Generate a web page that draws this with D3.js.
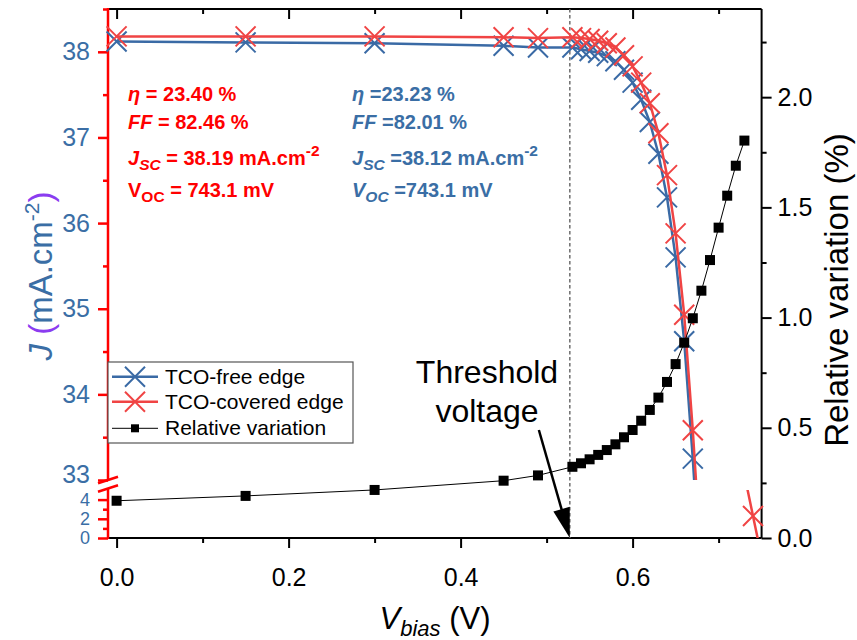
<!DOCTYPE html>
<html><head><meta charset="utf-8">
<script src="https://cdn.jsdelivr.net/npm/d3@7"></script>
<style>body{margin:0;background:#fff}svg{display:block}text{font-family:"Liberation Sans",Arial,sans-serif}</style>
</head><body><svg id="c" width="857" height="640"></svg>
<script>
// ---------- data ----------
const voltage = [0,0.15,0.30,0.45,0.49,0.53,0.54,0.55,0.56,0.57,0.58,0.59,0.60,0.61,0.62,0.63,0.64,0.65,0.66,0.67,0.68,0.69,0.70,0.71,0.72,0.73,0.74,0.75];
const jCovered = [38.18,38.18,38.18,38.17,38.16,38.17,38.16,38.15,38.13,38.10,38.05,37.96,37.83,37.64,37.40,37.05,36.56,35.88,34.93,33.58,32.00,29.5,25.8,20.5,13.8,6.6,2.3,-2.0];
const jFree = [38.12,38.11,38.10,38.07,38.05,38.05,38.03,38.01,37.99,37.95,37.89,37.79,37.64,37.44,37.18,36.81,36.30,35.60,34.62,33.25,31.64,29.1,25.4,20.2,13.6,6.5];
const relVariation = [0.169,0.191,0.218,0.260,0.284,0.323,0.339,0.357,0.377,0.399,0.425,0.457,0.490,0.532,0.581,0.637,0.708,0.789,0.886,0.997,1.122,1.261,1.408,1.553,1.689,1.803];
const thresholdV = 0.527;
const xTicks = [0,0.2,0.4,0.6];
const xMinor = [0.1,0.3,0.5,0.7];
const jUpperTicks = [33,34,35,36,37,38];
const jUpperMinor = [33.5,34.5,35.5,36.5,37.5,38.5];
const jLowerTicks = [0,2,4];
const jLowerMinor = [1,3];
const rTicks = [0,0.5,1.0,1.5,2.0];
const rMinor = [0.25,0.75,1.25,1.75,2.25];
const seriesNames = ["TCO-free edge","TCO-covered edge","Relative variation"];

// ---------- setup ----------
const W=857,H=640;
const BLUE="#3a6aa5", RED="#f04444", AXRED="#ff0000", TXTRED="#ff0000", TXTBLUE="#3a6ea5", PURPLE="#8b3cf0";
const svg=d3.select('#c');
const x=d3.scaleLinear().domain([-0.01,0.75]).range([108,761.6]);
const yUp=d3.scaleLinear().domain([33,38.5]).range([480,9]);
const yLow=d3.scaleLinear().domain([0,5]).range([538,490]);
const yR=d3.scaleLinear().domain([0,2.4]).range([538,9]);
const L=x.range()[0], R=x.range()[1], T=yUp.range()[1], B=yLow.range()[0];

const defs=svg.append('defs');
defs.append('clipPath').attr('id','clipUp').append('rect').attr('x',0).attr('y',0).attr('width',W).attr('height',yUp(33));
defs.append('clipPath').attr('id','clipLow').append('rect').attr('x',0).attr('y',yLow(5)).attr('width',W).attr('height',yLow(0)-yLow(5));

// ---------- axes ----------
function styleAxis(g,color,sw){g.select('.domain').remove();g.selectAll('.tick line').attr('stroke',color).attr('stroke-width',sw);g.selectAll('.tick text').attr('fill',color);}
let g=svg.append('g').attr('transform',`translate(0,${B})`).call(d3.axisBottom(x).tickValues(xTicks).tickSize(10).tickPadding(20).tickFormat(d3.format('.1f')));
styleAxis(g,'#000',2); g.selectAll('.tick text').attr('font-size',25).attr('fill','#000');
g=svg.append('g').attr('transform',`translate(0,${B})`).call(d3.axisBottom(x).tickValues(xMinor).tickSize(5).tickFormat(''));
styleAxis(g,'#000',2);
g=svg.append('g').attr('transform',`translate(0,${T})`).call(d3.axisTop(x).tickValues(xTicks).tickSize(-10).tickFormat(''));
styleAxis(g,'#000',2);
g=svg.append('g').attr('transform',`translate(0,${T})`).call(d3.axisTop(x).tickValues(xMinor).tickSize(-5).tickFormat(''));
styleAxis(g,'#000',2);
g=svg.append('g').attr('transform',`translate(${R},0)`).call(d3.axisRight(yR).tickValues(rTicks).tickSize(10).tickPadding(6).tickFormat(d3.format('.1f')));
styleAxis(g,'#000',2); g.selectAll('.tick text').attr('font-size',25).attr('fill','#000');
g=svg.append('g').attr('transform',`translate(${R},0)`).call(d3.axisRight(yR).tickValues(rMinor).tickSize(5).tickFormat(''));
styleAxis(g,'#000',2);
g=svg.append('g').attr('transform',`translate(${L},0)`).call(d3.axisLeft(yUp).tickValues(jUpperTicks).tickSize(10).tickPadding(8).tickFormat(d3.format('d')));
styleAxis(g,AXRED,2.5); g.selectAll('.tick text').attr('font-size',25).attr('fill',TXTBLUE);
g.selectAll('.tick text').filter(d=>d===33).attr('dy','0.1em');
g=svg.append('g').attr('transform',`translate(${L},0)`).call(d3.axisLeft(yUp).tickValues(jUpperMinor).tickSize(5).tickFormat(''));
styleAxis(g,AXRED,2.5);
g=svg.append('g').attr('transform',`translate(${L},0)`).call(d3.axisLeft(yLow).tickValues(jLowerTicks).tickSize(10).tickPadding(8).tickFormat(d3.format('d')));
styleAxis(g,AXRED,2.5); g.selectAll('.tick text').attr('font-size',18).attr('fill',TXTBLUE).attr('dy','0.3em');
g=svg.append('g').attr('transform',`translate(${L},0)`).call(d3.axisLeft(yLow).tickValues(jLowerMinor).tickSize(5).tickFormat(''));
styleAxis(g,AXRED,2.5);

// frame lines
svg.append('line').attr('x1',L).attr('x2',R).attr('y1',T).attr('y2',T).attr('stroke','#000').attr('stroke-width',2);
svg.append('line').attr('x1',L).attr('x2',R).attr('y1',B).attr('y2',B).attr('stroke','#000').attr('stroke-width',2);
svg.append('line').attr('x1',R).attr('x2',R).attr('y1',T).attr('y2',B).attr('stroke','#000').attr('stroke-width',2);
const brk1=yUp(33), brk2=yUp(33)+8.5;
svg.append('line').attr('x1',L).attr('x2',L).attr('y1',T-1).attr('y2',brk1).attr('stroke',AXRED).attr('stroke-width',2.5);
svg.append('line').attr('x1',L).attr('x2',L).attr('y1',brk2).attr('y2',B+1).attr('stroke',AXRED).attr('stroke-width',2.5);
[brk1,brk2].forEach(yb=>svg.append('line').attr('x1',L-10).attr('x2',L+10).attr('y1',yb+3.3).attr('y2',yb-3.3).attr('stroke',AXRED).attr('stroke-width',2.5));

svg.append('line').attr('x1',x(thresholdV)).attr('x2',x(thresholdV)).attr('y1',T).attr('y2',B)
  .attr('stroke','#6e6e6e').attr('stroke-width',1.5).attr('stroke-dasharray','3.5,2.5');

// ---------- J series ----------
function drawSeries(vals,color){
  const pts=vals.map((j,i)=>[voltage[i],j]);
  [[yUp,'clipUp'],[yLow,'clipLow']].forEach(([ys,clip])=>{
    const gg=svg.append('g').attr('clip-path',`url(#${clip})`);
    gg.append('path').datum(pts).attr('fill','none').attr('stroke',color).attr('stroke-width',2.5)
      .attr('d',d3.line().x(d=>x(d[0])).y(d=>ys(d[1])));
    gg.selectAll('path.m').data(pts).enter().append('path').attr('class','m')
      .attr('d',d=>{const cx=x(d[0]),cy=ys(d[1]),s=10;return `M${cx-s},${cy-s}L${cx+s},${cy+s}M${cx-s},${cy+s}L${cx+s},${cy-s}`;})
      .attr('stroke',color).attr('stroke-width',2).attr('fill','none');
  });
}
drawSeries(jFree,BLUE);
drawSeries(jCovered,RED);

// ---------- relative variation ----------
const rv=relVariation.map((r,i)=>[voltage[i],r]);
svg.append('path').datum(rv).attr('fill','none').attr('stroke','#000').attr('stroke-width',1)
  .attr('d',d3.line().x(d=>x(d[0])).y(d=>yR(d[1])));
svg.selectAll('rect.sq').data(rv).enter().append('rect').attr('class','sq')
  .attr('x',d=>x(d[0])-5).attr('y',d=>yR(d[1])-5).attr('width',10).attr('height',10).attr('fill','#000');

// ---------- arrow ----------
const a0=[x(0.491),yR(0.49)], a1=[x(thresholdV),yR(0)];
{
  const dx=a1[0]-a0[0], dy=a1[1]-a0[1], len=Math.hypot(dx,dy), ux=dx/len, uy=dy/len;
  const hl=30, hw=8.5, bx=a1[0]-ux*hl, by=a1[1]-uy*hl;
  svg.append('line').attr('x1',a0[0]).attr('y1',a0[1]).attr('x2',bx+ux*2).attr('y2',by+uy*2).attr('stroke','#000').attr('stroke-width',2.5);
  svg.append('path').attr('d',`M${a1[0]},${a1[1]}L${bx-uy*hw},${by+ux*hw}L${bx+uy*hw},${by-ux*hw}Z`).attr('fill','#000');
}
const thr=svg.append('text').attr('font-size',32).attr('text-anchor','middle').attr('fill','#000');
thr.append('tspan').attr('x',487).attr('y',383).text('Threshold');
thr.append('tspan').attr('x',487).attr('y',422).text('voltage');

// ---------- legend ----------
const lg=svg.append('g');
lg.append('rect').attr('x',108).attr('y',362).attr('width',245).attr('height',81).attr('fill','#fff').attr('stroke','#555').attr('stroke-width',1.2);
const rows=[376.7,401.7,428.3];
[[BLUE,0],[RED,1]].forEach(([c,i])=>{
  const cy=rows[i];
  lg.append('line').attr('x1',112).attr('x2',158).attr('y1',cy).attr('y2',cy).attr('stroke',c).attr('stroke-width',2.5);
  lg.append('path').attr('d',`M125,${cy-10}L145,${cy+10}M125,${cy+10}L145,${cy-10}`).attr('stroke',c).attr('stroke-width',2);
});
lg.append('line').attr('x1',112).attr('x2',158).attr('y1',rows[2]).attr('y2',rows[2]).attr('stroke','#000').attr('stroke-width',1);
lg.append('rect').attr('x',131).attr('y',rows[2]-4).attr('width',8).attr('height',8).attr('fill','#000');
seriesNames.forEach((n,i)=>lg.append('text').attr('x',165).attr('y',rows[i]+7).attr('font-size',21).attr('fill','#000').text(n));

// ---------- annotation text ----------
function richLine(xp,yp,color,parts){
  const t=svg.append('text').attr('x',xp).attr('y',yp).attr('fill',color).attr('font-size',20).attr('font-weight','bold');
  parts.forEach(p=>{
    const s=t.append('tspan').text(p.t);
    if(p.i) s.attr('font-style','italic');
    if(p.sub||p.sup) s.attr('font-size',15.5);
    if(p.dy!==undefined) s.attr('dy',p.dy);
  });
}
const red=[
 [{t:'η',i:1},{t:' = 23.40 %'}],
 [{t:'FF',i:1},{t:' = 82.46 %'}],
 [{t:'J',i:1},{t:'SC',i:1,sub:1,dy:5},{t:' = 38.19 mA.cm',dy:-5},{t:'-2',sup:1,dy:-9}],
 [{t:'V'},{t:'OC',sub:1,dy:5},{t:' = 743.1 mV',dy:-5}]
];
const blue=[
 [{t:'η',i:1},{t:' =23.23 %'}],
 [{t:'FF',i:1},{t:' =82.01 %'}],
 [{t:'J',i:1},{t:'SC',i:1,sub:1,dy:5},{t:' =38.12 mA.cm',dy:-5},{t:'-2',sup:1,dy:-9}],
 [{t:'V',i:1},{t:'OC',i:1,sub:1,dy:5},{t:' =743.1 mV',dy:-5}]
];
const baseY=[101,129,165,197];
red.forEach((p,i)=>richLine(128,baseY[i],TXTRED,p));
blue.forEach((p,i)=>richLine(352,baseY[i],TXTBLUE,p));

// ---------- axis titles ----------
const lt=svg.append('text').attr('transform','translate(52,276) rotate(-90)').attr('text-anchor','middle').attr('font-size',33).attr('fill',TXTBLUE);
lt.append('tspan').attr('font-style','italic').text('J');
lt.append('tspan').text(' ');
lt.append('tspan').attr('fill',PURPLE).text('(');
lt.append('tspan').text('mA.cm');
lt.append('tspan').attr('font-size',21).attr('dy',-13).text('-2');
lt.append('tspan').attr('fill',PURPLE).attr('dy',13).text(')');

svg.append('text').attr('transform','translate(848,290) rotate(-90)').attr('text-anchor','middle').attr('font-size',33).attr('fill','#000').text('Relative variation (%)');

const xt=svg.append('text').attr('x',435).attr('y',629).attr('text-anchor','middle').attr('font-size',31).attr('fill','#000');
xt.append('tspan').attr('font-style','italic').text('V');
xt.append('tspan').attr('font-style','italic').attr('font-size',22).attr('dy',7).text('bias');
xt.append('tspan').attr('dy',-7).text(' (V)');
</script></body></html>
